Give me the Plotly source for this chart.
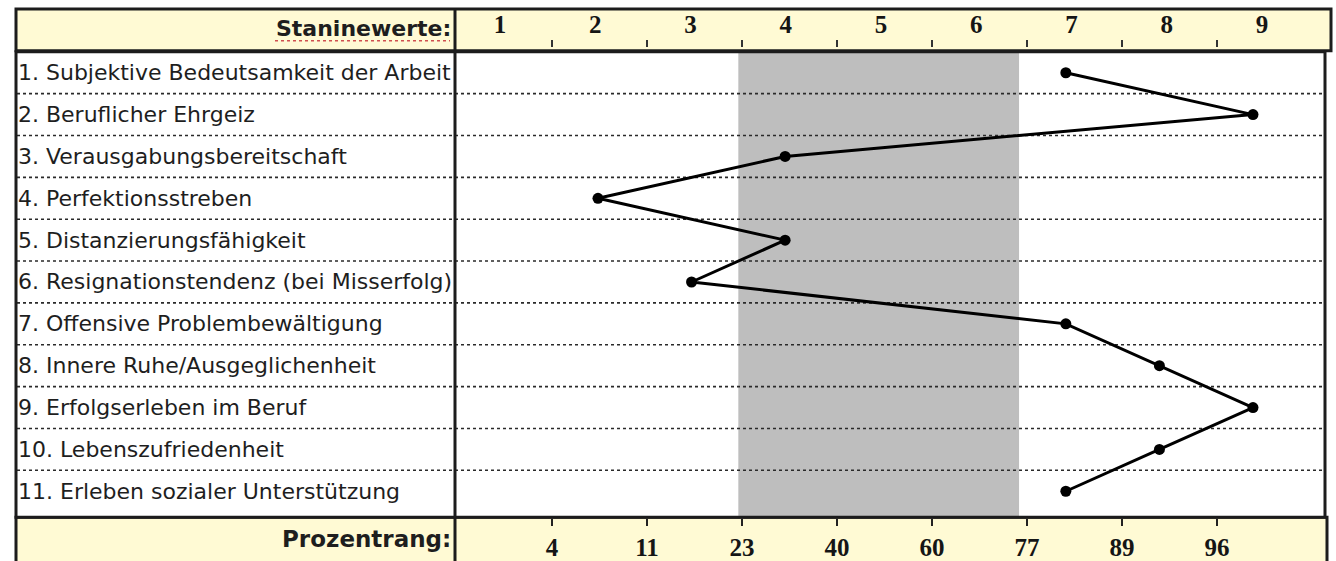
import plotly.graph_objects as go

# ---------------- data ----------------
items = [
    "1. Subjektive Bedeutsamkeit der Arbeit",
    "2. Beruflicher Ehrgeiz",
    "3. Verausgabungsbereitschaft",
    "4. Perfektionsstreben",
    "5. Distanzierungsfähigkeit",
    "6. Resignationstendenz (bei Misserfolg)",
    "7. Offensive Problembewältigung",
    "8. Innere Ruhe/Ausgeglichenheit",
    "9. Erfolgserleben im Beruf",
    "10. Lebenszufriedenheit",
    "11. Erleben sozialer Unterstützung",
]
stanine_values = [7, 9, 4, 2, 4, 3, 7, 8, 9, 8, 7]
stanine_ticks = [1, 2, 3, 4, 5, 6, 7, 8, 9]
stanine_labels = ["1", "2", "3", "4", "5", "6", "7", "8", "9"]
boundary_ticks = [1.5, 2.5, 3.5, 4.5, 5.5, 6.5, 7.5, 8.5]
prozentrang_labels = ["4", "11", "23", "40", "60", "77", "89", "96"]
average_band = [3.5, 6.5]
rows = list(range(1, len(items) + 1))

W, H = 1336, 561


def PX(px):
    return px / W


def PY(py):
    return 1 - py / H


YELLOW = "#FFFAD4"
BORDER = "#1c1c1c"

fig = go.Figure()

fig.add_trace(go.Scatter(
    x=stanine_values, y=rows, mode="lines+markers",
    line=dict(color="black", width=3),
    marker=dict(size=11, color="black"),
    xaxis="x", yaxis="y", showlegend=False, hoverinfo="skip",
))
for ax in ["x2", "x3", "x4"]:
    fig.add_trace(go.Scatter(x=[None], y=[None], xaxis=ax, yaxis="y",
                             showlegend=False, hoverinfo="skip"))

shapes = []
# header box
shapes.append(dict(type="rect", xref="paper", yref="paper",
                   x0=PX(16), x1=PX(1331), y0=PY(51), y1=PY(9),
                   fillcolor=YELLOW, line=dict(color=BORDER, width=3), layer="below"))
# footer box
shapes.append(dict(type="rect", xref="paper", yref="paper",
                   x0=PX(16), x1=PX(1327), y0=PY(566), y1=PY(519),
                   fillcolor=YELLOW, line=dict(color=BORDER, width=3), layer="below"))
# main box fill
shapes.append(dict(type="rect", xref="paper", yref="paper",
                   x0=PX(16), x1=PX(1325), y0=PY(519), y1=PY(52),
                   fillcolor="white", line=dict(width=0), layer="below"))
# average band
shapes.append(dict(type="rect", xref="x", yref="paper",
                   x0=average_band[0], x1=average_band[1], y0=PY(519), y1=PY(53),
                   fillcolor="#BEBEBE", line=dict(width=0), layer="below"))
# dotted row separators
for r in rows[:-1]:
    shapes.append(dict(type="line", xref="paper", yref="y",
                       x0=PX(17), x1=PX(1323), y0=r + 0.5, y1=r + 0.5,
                       line=dict(color="#2a2a2a", width=1.6, dash="dot"), layer="below"))
# main box outline
shapes.append(dict(type="rect", xref="paper", yref="paper",
                   x0=PX(16), x1=PX(1325), y0=PY(519), y1=PY(52),
                   fillcolor="rgba(0,0,0,0)", line=dict(color=BORDER, width=3), layer="below"))
# column divider
shapes.append(dict(type="line", xref="paper", yref="paper",
                   x0=PX(455), x1=PX(455), y0=PY(566), y1=PY(9),
                   line=dict(color=BORDER, width=3), layer="below"))
# spell-check underline under header label
shapes.append(dict(type="line", xref="paper", yref="paper",
                   x0=PX(275), x1=PX(450), y0=PY(41), y1=PY(41),
                   line=dict(color="#d05050", width=1.5, dash="dot"), layer="below"))

annotations = []
for r, name in zip(rows, items):
    annotations.append(dict(text=name, xref="paper", yref="y", x=PX(16), y=r,
                            xanchor="left", yanchor="middle", showarrow=False,
                            font=dict(family="DejaVu Sans", size=22, color="#1e1e1e")))
annotations.append(dict(text="Staninewerte:", xref="paper", yref="paper",
                        x=PX(453), y=PY(29), xanchor="right", yanchor="middle",
                        showarrow=False,
                        font=dict(family="DejaVu Sans", size=22, color="#1e1e1e", weight="bold")))
annotations.append(dict(text="Prozentrang:", xref="paper", yref="paper",
                        x=PX(453), y=PY(541), xanchor="right", yanchor="middle",
                        showarrow=False,
                        font=dict(family="DejaVu Sans", size=23, color="#1e1e1e", weight="bold")))

dom = [PX(457), PX(1324)]
hidden = dict(showgrid=False, zeroline=False, showline=False, showticklabels=False,
              ticks="", fixedrange=True)
serif_bold = dict(family="Liberation Serif", size=25, color="#151515", weight="bold")

fig.update_layout(
    width=W, height=H,
    margin=dict(l=0, r=0, t=0, b=0),
    paper_bgcolor="white", plot_bgcolor="rgba(0,0,0,0)",
    showlegend=False,
    xaxis=dict(domain=dom, range=[0.4934, 9.759], **hidden),
    yaxis=dict(domain=[PY(514), PY(52)], range=[11.5, 0.5], **hidden),
    xaxis2=dict(domain=dom, overlaying="x", anchor="free", position=PY(38), side="top",
                range=[0.5486, 9.651], tickmode="array", tickvals=stanine_ticks,
                ticktext=stanine_labels, ticks="", showgrid=False, zeroline=False,
                showline=False, tickfont=serif_bold, fixedrange=True),
    xaxis3=dict(domain=dom, overlaying="x", anchor="free", position=PY(47), side="top",
                range=[0.5, 9.626], tickmode="array", tickvals=boundary_ticks,
                showticklabels=False, ticks="outside", ticklen=7, tickwidth=2,
                tickcolor="#333333", showgrid=False, zeroline=False, showline=False,
                fixedrange=True),
    xaxis4=dict(domain=dom, overlaying="x", anchor="free", position=PY(520), side="bottom",
                range=[0.5, 9.626], tickmode="array", tickvals=boundary_ticks,
                ticktext=prozentrang_labels, ticks="outside", ticklen=7, tickwidth=2,
                tickcolor="#222222", showgrid=False, zeroline=False, showline=False,
                tickfont=serif_bold, fixedrange=True),
    shapes=shapes,
    annotations=annotations,
)

fig.write_html("out.html", config={"displayModeBar": False, "staticPlot": True},
               post_script="document.body.style.margin='0';")
